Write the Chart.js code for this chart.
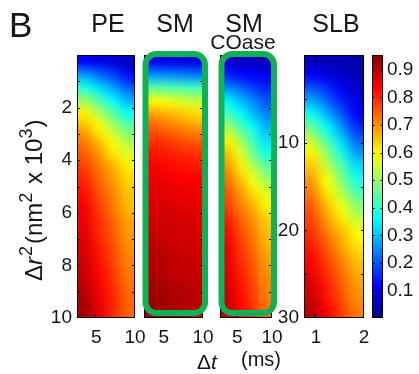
<!DOCTYPE html>
<html>
<head>
<meta charset="utf-8">
<script src="https://cdn.jsdelivr.net/npm/chart.js@4"></script>
<style>
  body { margin: 0; background: #fff; }
  #wrap { position: relative; width: 419px; height: 374px; }
  #wrap canvas { position: absolute; left: 0; top: 0; }
</style>
</head>
<body>
<div id="wrap">
  <canvas id="pe" width="419" height="374"></canvas>
  <canvas id="sm" width="419" height="374"></canvas>
  <canvas id="coase" width="419" height="374"></canvas>
  <canvas id="slb" width="419" height="374"></canvas>
  <canvas id="cbar" width="419" height="374"></canvas>
</div>
<script>
// top of the colour scale
const CMAX = 0.954;

// column centres (ms) and row centres of the maps
const dtCols = [3.4375, 5.3125, 7.1875, 9.0625];
const dtColsSLB = [0.90625, 1.21875, 1.53125, 1.84375];
const r2Rows = [0.25, 0.75, 1.25, 1.75, 2.25, 2.75, 3.25, 3.75, 4.25, 4.75,
                5.25, 5.75, 6.25, 6.75, 7.25, 7.75, 8.25, 8.75, 9.25, 9.75];
const r2RowsSLB = [0.75, 2.25, 3.75, 5.25, 6.75, 8.25, 9.75, 11.25, 12.75, 14.25,
                   15.75, 17.25, 18.75, 20.25, 21.75, 23.25, 24.75, 26.25, 27.75, 29.25];

// values (one row per row centre, one value per column)
const peMap = [
  [0.12, 0.10, 0.08, 0.06], [0.27, 0.22, 0.18, 0.13], [0.39, 0.33, 0.27, 0.21], [0.51, 0.44, 0.36, 0.29],
  [0.61, 0.53, 0.45, 0.37], [0.67, 0.60, 0.52, 0.45], [0.72, 0.65, 0.58, 0.51], [0.75, 0.69, 0.62, 0.56],
  [0.78, 0.72, 0.67, 0.61], [0.80, 0.74, 0.69, 0.63], [0.82, 0.76, 0.71, 0.65], [0.84, 0.78, 0.72, 0.66],
  [0.85, 0.79, 0.74, 0.68], [0.86, 0.80, 0.75, 0.69], [0.87, 0.81, 0.76, 0.70], [0.88, 0.82, 0.77, 0.71],
  [0.89, 0.83, 0.78, 0.72], [0.90, 0.84, 0.79, 0.73], [0.91, 0.85, 0.80, 0.74], [0.92, 0.86, 0.80, 0.74]
];
const smMap = [
  [0.10, 0.10, 0.09, 0.09], [0.26, 0.25, 0.24, 0.23], [0.45, 0.44, 0.43, 0.42], [0.60, 0.58, 0.56, 0.54],
  [0.69, 0.67, 0.65, 0.63], [0.75, 0.73, 0.71, 0.69], [0.79, 0.78, 0.76, 0.75], [0.82, 0.81, 0.80, 0.79],
  [0.84, 0.83, 0.82, 0.81], [0.85, 0.85, 0.84, 0.84], [0.86, 0.86, 0.85, 0.85], [0.87, 0.87, 0.86, 0.86],
  [0.88, 0.88, 0.87, 0.87], [0.89, 0.88, 0.88, 0.87], [0.90, 0.89, 0.88, 0.88], [0.91, 0.90, 0.89, 0.88],
  [0.91, 0.90, 0.89, 0.89], [0.92, 0.91, 0.90, 0.89], [0.93, 0.92, 0.91, 0.90], [0.93, 0.92, 0.91, 0.90]
];
const coaseMap = [
  [0.08, 0.07, 0.06, 0.05], [0.15, 0.13, 0.12, 0.10], [0.25, 0.22, 0.18, 0.15], [0.35, 0.30, 0.25, 0.20],
  [0.43, 0.37, 0.30, 0.24], [0.52, 0.44, 0.37, 0.29], [0.61, 0.52, 0.42, 0.33], [0.66, 0.57, 0.47, 0.38],
  [0.70, 0.62, 0.53, 0.45], [0.73, 0.66, 0.58, 0.51], [0.76, 0.70, 0.63, 0.57], [0.78, 0.72, 0.67, 0.61],
  [0.81, 0.75, 0.70, 0.64], [0.83, 0.77, 0.72, 0.66], [0.85, 0.79, 0.73, 0.67], [0.86, 0.80, 0.75, 0.69],
  [0.87, 0.81, 0.76, 0.70], [0.88, 0.82, 0.77, 0.71], [0.89, 0.83, 0.78, 0.72], [0.90, 0.84, 0.79, 0.73]
];
const slbMap = [
  [0.06, 0.05, 0.05, 0.04], [0.11, 0.09, 0.07, 0.05], [0.20, 0.16, 0.11, 0.07], [0.28, 0.22, 0.15, 0.09],
  [0.37, 0.29, 0.20, 0.12], [0.46, 0.36, 0.26, 0.16], [0.54, 0.43, 0.32, 0.21], [0.61, 0.50, 0.38, 0.27],
  [0.65, 0.54, 0.44, 0.33], [0.69, 0.59, 0.48, 0.38], [0.72, 0.62, 0.53, 0.43], [0.75, 0.66, 0.58, 0.49],
  [0.77, 0.69, 0.62, 0.54], [0.79, 0.72, 0.66, 0.59], [0.81, 0.75, 0.68, 0.62], [0.83, 0.77, 0.71, 0.65],
  [0.85, 0.79, 0.73, 0.67], [0.87, 0.81, 0.75, 0.69], [0.88, 0.82, 0.76, 0.70], [0.90, 0.84, 0.78, 0.72]
];

// tick labels
const dtTicks = [5, 10];
const dtTicksSLB = [1, 2];
const r2Ticks = [2, 4, 6, 8, 10];
const r2TicksSLB = [10, 20, 30];
const cbarTicks = [0.1, 0.2, 0.3, 0.4, 0.5, 0.6, 0.7, 0.8, 0.9];

const W = 419, H = 374;
const FONT = '"Liberation Sans", Arial, Helvetica, sans-serif';
const INK = '#161616';
const GREEN = '#12b056';

// matlab jet
function jet(v) {
  const t = Math.max(0, Math.min(1, v / CMAX));
  const c = k => Math.round(255 * Math.max(0, Math.min(1, 1.5 - Math.abs(4 * t - k))));
  return [c(3), c(2), c(1)];
}

// draws a run of text pieces (normal / italic / superscript) one after the other
function richText(ctx, x, y, size, parts) {
  parts.forEach(p => {
    const s = p.sup ? Math.round(size * 0.74) : size;
    ctx.font = (p.it ? 'italic ' : '') + s + 'px ' + FONT;
    ctx.fillText(p.t, x, y - (p.sup ? size * 0.42 : 0));
    x += ctx.measureText(p.t).width + (p.gap || 0);
  });
}

const panels = [
  { id: 'pe', area: [77, 55, 135, 318], xr: [2.5, 10], yr: [0, 10], cols: dtCols, rows: r2Rows, map: peMap,
    yStep: 1, xTicks: dtTicks, yLabels: r2Ticks },
  { id: 'sm', area: [144, 55, 203, 318], xr: [2.5, 10], yr: [0, 10], cols: dtCols, rows: r2Rows, map: smMap,
    yStep: 1, xTicks: dtTicks, box: true },
  { id: 'coase', area: [220, 55, 272, 318], xr: [2.5, 10], yr: [0, 10], cols: dtCols, rows: r2Rows, map: coaseMap,
    yStep: 1, xTicks: dtTicks, box: true },
  { id: 'slb', area: [304, 55, 364, 318], xr: [0.75, 2], yr: [0, 30], cols: dtColsSLB, rows: r2RowsSLB, map: slbMap,
    yStep: 5, xTicks: dtTicksSLB, yLabels: r2TicksSLB }
];

function panelPlugin(p) {
  return {
    id: 'heat_' + p.id,
    afterDraw(chart) {
      const ctx = chart.ctx, sx = chart.scales.x, sy = chart.scales.y, a = chart.chartArea;
      const nx = p.cols.length, ny = p.rows.length;

      // map -> small image, scaled onto the axes
      const off = document.createElement('canvas');
      off.width = nx; off.height = ny;
      const octx = off.getContext('2d');
      const img = octx.createImageData(nx, ny);
      p.map.forEach((row, j) => row.forEach((v, i) => {
        const [r, g, b] = jet(v), k = 4 * (j * nx + i);
        img.data[k] = r; img.data[k + 1] = g; img.data[k + 2] = b; img.data[k + 3] = 255;
      }));
      octx.putImageData(img, 0, 0);
      const dx = p.cols[1] - p.cols[0], dy = p.rows[1] - p.rows[0];
      const x0 = sx.getPixelForValue(p.cols[0] - dx / 2), x1 = sx.getPixelForValue(p.cols[nx - 1] + dx / 2);
      const y0 = sy.getPixelForValue(p.rows[0] - dy / 2), y1 = sy.getPixelForValue(p.rows[ny - 1] + dy / 2);
      ctx.save();
      ctx.imageSmoothingEnabled = true;
      ctx.imageSmoothingQuality = 'high';
      ctx.drawImage(off, x0, y0, x1 - x0, y1 - y0);

      // box and inside ticks
      ctx.strokeStyle = '#000';
      ctx.lineWidth = 1;
      ctx.strokeRect(a.left + 0.5, a.top + 0.5, a.right - a.left - 1, a.bottom - a.top - 1);
      ctx.beginPath();
      for (let v = p.yr[0] + p.yStep; v < p.yr[1]; v += p.yStep) {
        const py = Math.round(sy.getPixelForValue(v)) + 0.5;
        ctx.moveTo(a.left, py); ctx.lineTo(a.left + 3, py);
        ctx.moveTo(a.right, py); ctx.lineTo(a.right - 3, py);
      }
      p.xTicks.forEach(v => {
        const px = Math.round(sx.getPixelForValue(v)) - 0.5;
        ctx.moveTo(px, a.bottom); ctx.lineTo(px, a.bottom - 4);
        ctx.moveTo(px, a.top); ctx.lineTo(px, a.top + 4);
      });
      ctx.stroke();

      // tick labels
      ctx.fillStyle = INK;
      ctx.font = '19px ' + FONT;
      ctx.textAlign = 'center';
      ctx.textBaseline = 'alphabetic';
      p.xTicks.forEach(v => ctx.fillText(String(v), sx.getPixelForValue(v), a.bottom + 25));
      if (p.yLabels) {
        ctx.textAlign = 'right';
        ctx.textBaseline = 'middle';
        p.yLabels.forEach(v => ctx.fillText(String(v), a.left - 5, sy.getPixelForValue(v)));
      }

      // green rounded frame
      if (p.box) {
        ctx.strokeStyle = GREEN;
        ctx.lineWidth = 6;
        ctx.beginPath();
        ctx.roundRect(a.left + 1.5, a.top - 1, a.right - a.left + 0.5, a.bottom - a.top - 4, 11);
        ctx.stroke();
      }
      ctx.restore();
    }
  };
}

// panel titles, panel letter and axis titles
const textPlugin = {
  id: 'texts',
  afterDraw(chart) {
    const ctx = chart.ctx;
    ctx.save();
    ctx.fillStyle = INK;
    ctx.textBaseline = 'alphabetic';
    ctx.font = '35px ' + FONT;
    ctx.textAlign = 'left';
    ctx.fillText('B', 9, 37);

    ctx.textAlign = 'center';
    ctx.font = '25px ' + FONT;
    ctx.fillText('PE', 108, 32);
    ctx.fillText('SM', 175, 32);
    ctx.fillText('SM', 244, 32);
    ctx.fillText('SLB', 336, 32);
    ctx.font = '21px ' + FONT;
    ctx.fillText('COase', 243, 49);

    ctx.textAlign = 'left';
    richText(ctx, 197, 369, 21, [{ t: 'Δ' }, { t: 't', it: true }]);
    ctx.font = '20px ' + FONT;
    ctx.fillText('(ms)', 241, 366);

    ctx.translate(42, 281);
    ctx.rotate(-Math.PI / 2);
    richText(ctx, 0, 0, 24, [
      { t: 'Δ' }, { t: 'r', it: true, gap: 1 }, { t: '2', sup: true, gap: 2 }, { t: '(nm' }, { t: '2', sup: true, gap: 2 },
      { t: ' x 10' }, { t: '3', sup: true, gap: 1 }, { t: ')' }
    ]);
    ctx.restore();
  }
};

// colour bar
const cbarPlugin = {
  id: 'cbar',
  afterDraw(chart) {
    const ctx = chart.ctx, sy = chart.scales.y, a = chart.chartArea;
    ctx.save();
    const g = ctx.createLinearGradient(0, sy.getPixelForValue(0), 0, sy.getPixelForValue(CMAX));
    [0, 0.125, 0.375, 0.625, 0.875, 1].forEach(f => {
      const [r, gg, b] = jet(f * CMAX);
      g.addColorStop(f, 'rgb(' + r + ',' + gg + ',' + b + ')');
    });
    ctx.fillStyle = g;
    ctx.fillRect(a.left, a.top, a.right - a.left, a.bottom - a.top);
    ctx.strokeStyle = '#000';
    ctx.lineWidth = 1;
    ctx.strokeRect(a.left + 0.5, a.top + 0.5, a.right - a.left - 1, a.bottom - a.top - 1);
    ctx.beginPath();
    cbarTicks.forEach(v => {
      const py = Math.round(sy.getPixelForValue(v)) + 0.5;
      ctx.moveTo(a.left, py); ctx.lineTo(a.left + 2.5, py);
      ctx.moveTo(a.right, py); ctx.lineTo(a.right - 2.5, py);
    });
    ctx.stroke();
    ctx.fillStyle = INK;
    ctx.font = '19px ' + FONT;
    ctx.textAlign = 'left';
    ctx.textBaseline = 'middle';
    cbarTicks.forEach(v => ctx.fillText(v.toFixed(1), a.right + 4, sy.getPixelForValue(v)));
    ctx.restore();
  }
};

function makeChart(id, area, xr, yr, down, plugins) {
  return new Chart(document.getElementById(id), {
    type: 'scatter',
    data: { datasets: [] },
    options: {
      responsive: false,
      animation: false,
      events: [],
      layout: { padding: { left: area[0], top: area[1], right: W - area[2], bottom: H - area[3] } },
      plugins: { legend: { display: false }, tooltip: { enabled: false } },
      scales: {
        x: { type: 'linear', display: false, min: xr[0], max: xr[1] },
        y: { type: 'linear', display: false, min: yr[0], max: yr[1], reverse: down }
      }
    },
    plugins: plugins
  });
}

panels.forEach((p, i) => {
  makeChart(p.id, p.area, p.xr, p.yr, true, i === 0 ? [panelPlugin(p), textPlugin] : [panelPlugin(p)]);
});
makeChart('cbar', [372, 55, 383, 318], [0, 1], [0, CMAX], false, [cbarPlugin]);
</script>
</body>
</html>
